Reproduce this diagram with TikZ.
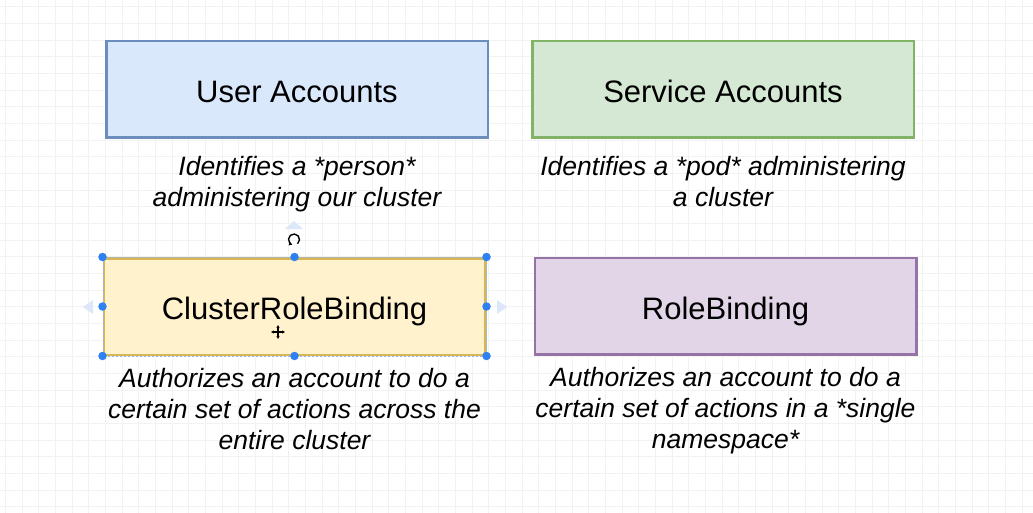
\documentclass[tikz,border=0pt]{standalone}
\usepackage{fontspec}
\setmainfont{Liberation Sans}
\usetikzlibrary{positioning,arrows.meta}
\definecolor{gridgray}{HTML}{F2F2F2}
\definecolor{uaedge}{HTML}{6C8EBF}
\definecolor{uafill}{HTML}{DAE8FC}
\definecolor{saedge}{HTML}{82B366}
\definecolor{safill}{HTML}{D5E8D4}
\definecolor{crbedge}{HTML}{D6B656}
\definecolor{crbfill}{HTML}{FFF2CC}
\definecolor{rbedge}{HTML}{9673A6}
\definecolor{rbfill}{HTML}{E1D5E7}
\definecolor{selblue}{HTML}{2F80F2}
\definecolor{seltri}{HTML}{DCE8FA}
\tikzset{>=latex,%
  box/.style={draw,line width=2.5pt,minimum width=381.5pt,minimum height=96.5pt,
    text height=26.4pt,text depth=0pt,font=\fontsize{31}{36}\selectfont},
  desc/.style={align=center,inner sep=0pt,
    font=\fontsize{26.5}{31}\selectfont\itshape},
  handle/.style={circle,fill=selblue,minimum size=8.5pt,inner sep=0pt},
  movearrow/.style={line width=1.3pt,{Latex[length=2.6pt,width=3.6pt]}-{Latex[length=2.6pt,width=3.6pt]}}}

\begin{document}
\begin{tikzpicture}[x=1pt,y=-1pt]
      \fill[white] (0,0) rectangle (1033,513);
      \useasboundingbox (0,0) rectangle (1033,513);
      \foreach \i in {0,...,61} {\draw[gridgray,line width=0.8pt] ({5.5+16.667*\i},0) -- ({5.5+16.667*\i},513);};
      \foreach \i in {0,...,30} {\draw[gridgray,line width=0.8pt] (0,{6.7+16.667*\i}) -- (1033,{6.7+16.667*\i});};
      \node[box,draw=uaedge,fill=uafill] (ua) at (297,89.5) {User Accounts};
      \node[box,draw=saedge,fill=safill] (sa) at (723,89.5) {Service Accounts};
      \node[box,draw=crbedge,fill=crbfill] (crb) at (294.5,306.5) {ClusterRoleBinding};
      \node[box,draw=rbedge,fill=rbfill] (rb) at (725.5,306) {RoleBinding};
      \node[desc,below=17pt of ua] (uadesc) {Identifies a *person*\\administering our cluster};
      \node[desc,below=17pt of sa] (sadesc) {Identifies a *pod* administering\\a cluster};
      \node[desc,below=12pt of crb] (crbdesc) {Authorizes an account to do a\\certain set of actions across the\\entire cluster};
      \node[desc,below=12pt of rb] (rbdesc) {Authorizes an account to do a\\certain set of actions in a *single\\namespace*};
      \draw[selblue!55,line width=0.8pt,dash pattern=on 2pt off 2pt] (103,257) rectangle (486,356);
      \foreach \a in {north west,north,north east,west,east,south west,south,south east}
        {\path (crb.\a) node[handle] (h\a) {};};
      \fill[seltri] (83,307) -- (93,300) -- (93,314) -- cycle;
      \fill[seltri] (507,307) -- (497,300) -- (497,314) -- cycle;
      \fill[seltri] (294,221) -- (303,229) -- (285,229) -- cycle;
      \draw[line width=1.4pt,-{Latex[length=3pt,width=4.2pt]}] (294,239.5) ++(50:5.5) arc (50:-250:5.5);
      \draw[movearrow] (271,332) -- (285,332);
      \draw[movearrow] (278,325) -- (278,339);
    \end{tikzpicture}
\end{document}
